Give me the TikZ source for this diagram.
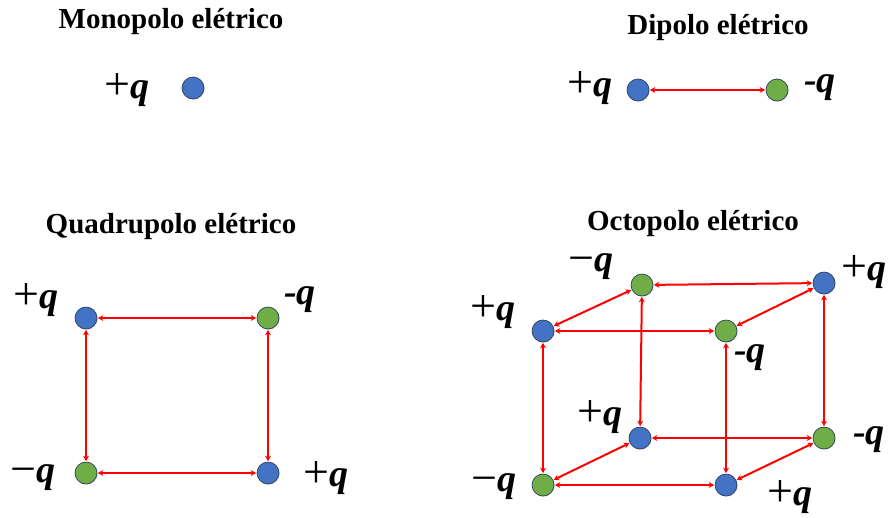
\documentclass[tikz,border=0pt]{standalone}
\usepackage{fontspec}
\setmainfont{Liberation Serif}
\usetikzlibrary{arrows.meta,shadows}
\definecolor{qblue}{HTML}{4472C4}
\definecolor{qgreen}{HTML}{70AD47}
\definecolor{qedge}{HTML}{2B3F5C}
\tikzset{
  chg/.style={circle,minimum size=22pt,inner sep=0pt,draw=qedge,line width=0.7pt,
    drop shadow={opacity=0.25,shadow xshift=0.8pt,shadow yshift=-0.8pt}},
  poschg/.style={chg,fill=qblue},
  negchg/.style={chg,fill=qgreen},
  ttl/.style={font=\fontsize{29}{32}\selectfont\bfseries,inner sep=0pt},
  lbl/.style={font=\fontsize{38}{40}\selectfont,inner sep=0pt},
  link/.style={red,line width=2pt,{Stealth[length=5.5pt,width=6pt]}-{Stealth[length=5.5pt,width=6pt]},shorten <=0.5pt,shorten >=0.5pt}
}
\newcommand{\pq}{\raisebox{-1.5pt}{\fontsize{46}{46}\selectfont +}\textbf{\textit{q}}}
\newcommand{\mq}{\raisebox{-1.5pt}{\fontsize{46}{46}\selectfont −}\textbf{\textit{q}}}
\newcommand{\hq}{\textbf{\textit{-q}}}
\begin{document}
\begin{tikzpicture}[x=1pt,y=-1pt]
\useasboundingbox (0,0) rectangle (888,517);
% Monopolo
\node[ttl] (t1) at (171,22) {Monopolo elétrico};
\node[poschg] (m1) at (193,88) {};
\node[lbl] (lm1) at (127,90) {\pq};
% Dipolo
\node[ttl] (t2) at (718,28) {Dipolo elétrico};
\node[poschg] (d1) at (638,90) {};
\node[negchg] (d2) at (777,90) {};
\node[lbl] (ld1) at (590,88) {\pq};
\node[lbl] (ld2) at (820,88) {\hq};
\draw[link] (d1) -- (d2);
% Quadrupolo
\node[ttl] (t3) at (171,227) {Quadrupolo elétrico};
\node[poschg] (q1) at (86,318) {};
\node[negchg] (q2) at (268,318) {};
\node[negchg] (q3) at (86,473) {};
\node[poschg] (q4) at (268,473) {};
\node[lbl] (lq1) at (36,300) {\pq};
\node[lbl] (lq2) at (300,300) {\hq};
\node[lbl] (lq3) at (33,478) {\mq};
\node[lbl] (lq4) at (326,478) {\pq};
\draw[link] (q1) -- (q2);
\draw[link] (q3) -- (q4);
\draw[link] (q1) -- (q3);
\draw[link] (q2) -- (q4);
% Octopolo
\node[ttl] (t4) at (693,224) {Octopolo elétrico};
\node[negchg] (tbl) at (642,285) {};
\node[poschg] (tbr) at (824,283) {};
\node[poschg] (tfl) at (543,331) {};
\node[negchg] (tfr) at (726,331) {};
\node[poschg] (bbl) at (640,438) {};
\node[negchg] (bbr) at (824,438) {};
\node[negchg] (bfl) at (543,485) {};
\node[poschg] (bfr) at (726,485) {};
\node[lbl] (l1) at (591,267) {\mq};
\node[lbl] (l2) at (864,272) {\pq};
\node[lbl] (l3) at (493,312) {\pq};
\node[lbl] (l4) at (750,358) {\hq};
\node[lbl] (l5) at (600,417) {\pq};
\node[lbl] (l6) at (869,440) {\hq};
\node[lbl] (l7) at (494,487) {\mq};
\node[lbl] (l8) at (790,497) {\pq};
\draw[link] (tbl) -- (tbr);
\draw[link] (bbl) -- (bbr);
\draw[link] (tbl) -- (bbl);
\draw[link] (tbr) -- (bbr);
\draw[link] (tfl) -- (tfr);
\draw[link] (bfl) -- (bfr);
\draw[link] (tfl) -- (bfl);
\draw[link] (tfr) -- (bfr);
\draw[link] (tfl) -- (tbl);
\draw[link] (tfr) -- (tbr);
\draw[link] (bfl) -- (bbl);
\draw[link] (bfr) -- (bbr);
\end{tikzpicture}
\end{document}
